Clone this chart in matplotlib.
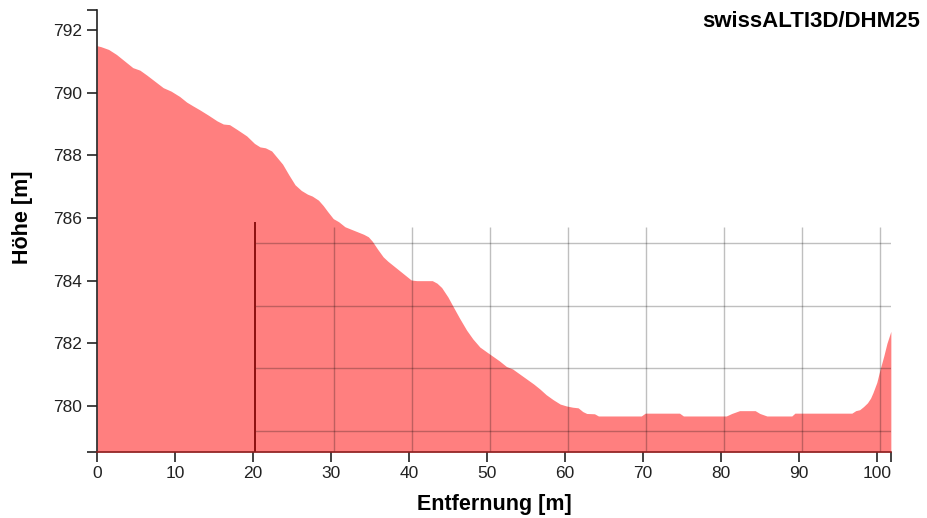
import numpy as np
import matplotlib
matplotlib.use("Agg")
from matplotlib import pyplot as plt

# Profil: Entfernung [m] und Höhe [m]
entfernung = [0, 0.5, 1.5, 2.5, 3.5, 4.6, 5.5, 6.4, 7.5, 8.5, 9.5, 10.6, 11.5, 12.3,
              13.2, 14.3, 15.4, 16.2, 17.0, 18.0, 19.2, 20.2, 20.9, 21.6, 22.4, 23.0,
              23.8, 24.6, 25.4, 26.2, 27.0, 27.6, 28.4, 29.0, 29.6, 30.3, 31.0, 31.8,
              32.6, 33.4, 34.2, 34.8, 35.3, 36.0, 36.7, 37.3, 38.0, 38.8, 39.5, 40.3,
              41.0, 42.0, 43.0, 43.6, 44.2, 45.0, 45.7, 46.5, 47.4, 48.2, 49.1, 50.0,
              50.8, 51.6, 52.5, 53.3, 54.2, 55.1, 56.0, 56.8, 57.6, 58.5, 59.4, 60.2,
              61.0, 61.7, 62.3, 62.8, 63.8, 64.3, 66, 68, 69.8, 70.3, 72, 74.7, 75.2,
              78, 80.7, 81.4, 82.4, 84.4, 85.0, 85.9, 88, 89.1, 89.5, 92, 94, 96.8,
              97.3, 97.8, 98.3, 98.8, 99.2, 99.5, 100.0, 100.4, 100.9, 101.3, 101.8]
hoehe = [791.5, 791.47, 791.38, 791.22, 791.02, 790.8, 790.72, 790.56, 790.35, 790.16,
         790.05, 789.88, 789.7, 789.58, 789.45, 789.28, 789.1, 789.0, 788.98, 788.82,
         788.62, 788.38, 788.27, 788.24, 788.14, 787.96, 787.72, 787.38, 787.06, 786.88,
         786.76, 786.7, 786.57, 786.4, 786.2, 785.98, 785.88, 785.72, 785.64, 785.56,
         785.48, 785.4, 785.26, 785.0, 784.76, 784.62, 784.48, 784.32, 784.18, 784.02,
         784.0, 784.0, 784.0, 783.92, 783.78, 783.48, 783.16, 782.8, 782.42, 782.14,
         781.88, 781.72, 781.58, 781.44, 781.26, 781.18, 781.02, 780.86, 780.7, 780.54,
         780.36, 780.2, 780.06, 780.0, 779.96, 779.94, 779.82, 779.76, 779.75, 779.68,
         779.68, 779.68, 779.68, 779.77, 779.77, 779.77, 779.68, 779.68, 779.68, 779.76,
         779.85, 779.85, 779.76, 779.68, 779.68, 779.68, 779.77, 779.77, 779.77, 779.77,
         779.85, 779.88, 779.98, 780.1, 780.25, 780.42, 780.75, 781.15, 781.6, 782.0,
         782.38]

x_ticks = [0, 10, 20, 30, 40, 50, 60, 70, 80, 90, 100]
y_ticks = [780, 782, 784, 786, 788, 790, 792]
titel = "swissALTI3D/DHM25"

schrift = ['Liberation Sans', 'DejaVu Sans']
xmin, xmax = 0, max(entfernung)
ymin, ymax = 778.53, 792.64

fig = plt.figure(figsize=(9.27, 5.18), dpi=100)
ax = fig.add_axes([0.1046, 0.1274, 0.961 - 0.1046, 0.9807 - 0.1274])

ax.fill_between(entfernung, hoehe, ymin, color="#ff7f7f", linewidth=0)

# verschobenes Gitter (wie im Original)
gx = np.array(x_ticks[3:]) + 0.4
gy = np.array(y_ticks[:4]) - 0.8
ax.vlines(gx, ymin, 785.7, color="black", alpha=0.25, linewidth=1)
ax.hlines(gy, 20.3, xmax, color="black", alpha=0.25, linewidth=1)
ax.vlines([20.3], ymin, 785.86, color="#8b1010", linewidth=1.4)

ax.set_xlim(xmin, xmax)
ax.set_ylim(ymin, ymax)
ax.set_xticks(x_ticks)
ax.set_yticks(y_ticks)
ax.set_xticks([xmax], minor=True)
ax.set_yticks([ymin, ymax], minor=True)
ax.tick_params(which="both", length=7, width=1.2, labelsize=12.5, colors="#222222")
ax.tick_params(axis="x", pad=3)
for lab in ax.get_xticklabels() + ax.get_yticklabels():
    lab.set_family(schrift)

ax.spines["top"].set_visible(False)
ax.spines["right"].set_visible(False)
ax.spines["left"].set_linewidth(1.2)
ax.spines["left"].set_color("#222222")
ax.spines["bottom"].set_linewidth(1.2)
ax.spines["bottom"].set_color("#8b2020")

ax.set_xlabel("Entfernung [m]", fontsize=15.5, fontweight="bold", family=schrift)
ax.set_ylabel("Höhe [m]", fontsize=15.5, fontweight="bold", family=schrift)
ax.xaxis.set_label_coords(0.5, -0.094)
ax.yaxis.set_label_coords(-0.081, 0.532)
fig.text(0.758, 0.948, titel, fontsize=16, fontweight="bold", family=schrift)

fig.savefig("out.png", dpi=100)
